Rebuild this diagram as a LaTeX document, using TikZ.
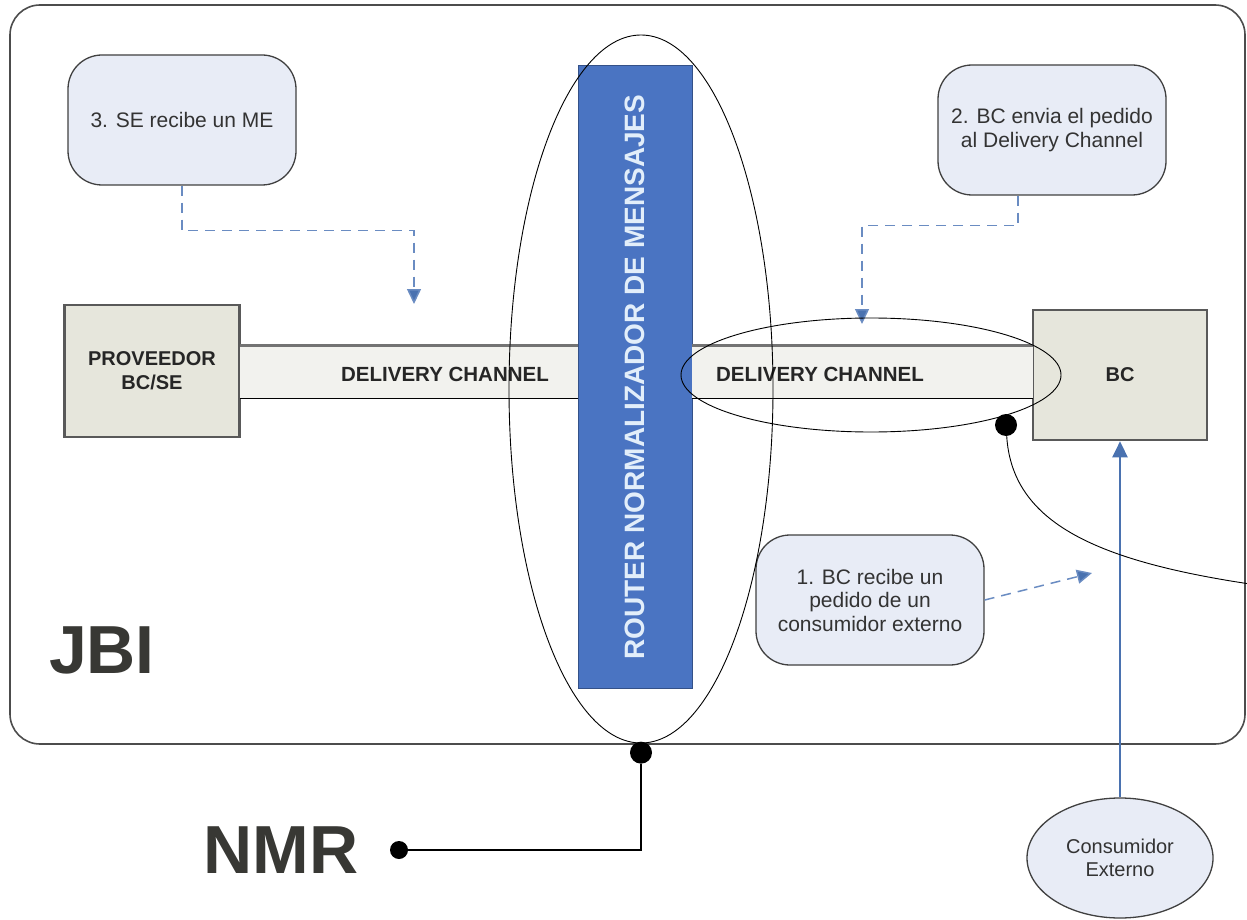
\documentclass[tikz,border=0pt]{standalone}
\usepackage{fontspec}
\setmainfont{Liberation Sans}
\usepackage{tikz}
\usetikzlibrary{shapes,arrows.meta,positioning,calc}

\definecolor{routerblue}{HTML}{4A74C2}
\definecolor{routertext}{HTML}{E2EEFA}
\definecolor{bubblefill}{HTML}{E8ECF6}
\definecolor{compfill}{HTML}{E6E6DC}
\definecolor{chanfill}{HTML}{F2F2EE}
\definecolor{dashblue}{HTML}{6A8CC2}
\definecolor{tipblue}{HTML}{4A72B0}
\definecolor{darktext}{HTML}{383834}

\tikzset{
  bubble/.style={draw=black!75, line width=1.3pt, fill=bubblefill, rounded corners=34pt,
    minimum width=228pt, minimum height=130pt, align=center, text=black!80,
    font=\fontsize{21}{23.5}\selectfont},
  compbox/.style={draw=black!65, line width=2.6pt, fill=compfill, align=center,
    font=\fontsize{20}{24}\selectfont\bfseries, text=black!85},
  channel/.style={fill=chanfill, minimum height=53pt, inner sep=0pt},
  chanlabel/.style={font=\fontsize{20.5}{24}\selectfont\bfseries, text=black!85},
  dasharrow/.style={draw=dashblue, line width=1.5pt, dash pattern=on 10pt off 7pt,
    -{Triangle[length=15pt, width=14pt, fill=tipblue]}},
  dot/.style={circle, fill=black, inner sep=0pt, minimum size=22pt},
  ring/.style={ellipse, draw, line width=0.9pt, inner sep=0pt}
}

\begin{document}
\begin{tikzpicture}[x=1pt, y=-1pt]
    \useasboundingbox (0,0) rectangle (1247,920);

    % JBI container
    \draw[black!70, line width=1.6pt, rounded corners=30pt] (10,5) rectangle (1245,744);
    \node[font=\fontsize{68}{68}\selectfont\bfseries, text=darktext] (jbi) at (102,650) {JBI};

    % Router bar
    \node[draw=routerblue!70!black, line width=1pt, fill=routerblue, minimum width=114pt,
        minimum height=622pt, inner sep=0pt] (router) at (635,377) {};
    \node[rotate=90, text=routertext, font=\fontsize{28}{30}\selectfont\bfseries]
        at (router.center) {ROUTER NORMALIZADOR DE MENSAJES};

    % Components
    \node[compbox, minimum width=175pt, minimum height=132pt] (prov) at (152,371) {PROVEEDOR\\BC/SE};
    \node[compbox, minimum width=174pt, minimum height=130pt] (bc) at (1120,375) {BC};

    % Delivery channels
    \node[channel, minimum width=338pt] (chanL) at (409,372) {};
    \node[chanlabel] (chanLtxt) at (445,374) {DELIVERY CHANNEL};
    \draw[black!55, line width=3pt] (chanL.north west) -- (chanL.north east);
    \draw[black, line width=1.4pt] (chanL.south west) -- (chanL.south east);

    \node[channel, minimum width=341pt] (chanR) at (862.5,372) {};
    \node[chanlabel] (chanRtxt) at (820,374) {DELIVERY CHANNEL};
    \draw[black!55, line width=3pt] (chanR.north west) -- (chanR.north east);
    \draw[black, line width=1.4pt] (chanR.south west) -- (chanR.south east);

    % Steps
    \node[bubble] (step3) at (182,120) {3. SE recibe un ME};
    \node[bubble] (step2) at (1052,130) {2. BC envia el pedido\\al Delivery Channel};
    \node[bubble] (step1) at (870,600) {1. BC recibe un\\pedido de un\\consumidor externo};

    \coordinate (tip3) at (414,304);
    \coordinate (tip2) at (862,324);
    \coordinate (tip1) at (1092,573);
    \draw[dasharrow] (step3.south) -- ++(0,45) -| (tip3);
    \draw[dasharrow] ([xshift=-34pt]step2.south) -- ++(0,30) -| (tip2);
    \draw[dasharrow] (step1.east) -- (tip1);

    % External consumer
    \node[ellipse, draw=black!75, line width=1.3pt, fill=bubblefill, minimum width=186pt,
        minimum height=120pt, align=center, text=black!80,
        font=\fontsize{20}{23}\selectfont] (cons) at (1120,858) {Consumidor\\Externo};
    \draw[tipblue, line width=2.5pt, -{Triangle[length=16pt, width=15pt]}] (cons) -- (bc);

    % Rings and callouts
    \node[ring, minimum width=264pt, minimum height=708pt] (nmrring) at (641,389) {};
    \node[ring, minimum width=380pt, minimum height=114pt] (dcring) at (871,375) {};

    \node[dot, anchor=north, yshift=2pt] (nmrdot) at (nmrring.south) {};
    \node[dot, minimum size=18pt] (nmrend) at (399,850) {};
    \draw[line width=1.2pt] (nmrdot) |- (nmrend);
    \node[font=\fontsize{68}{68}\selectfont\bfseries, text=darktext, left=28pt of nmrend] (nmr) {NMR};

    \node[dot] (dcdot) at (1006,425) {};
    \coordinate (dcend) at (1250,584);
    \draw[line width=0.9pt] (dcdot) .. controls (1012,520) and (1090,560) .. (dcend);
\end{tikzpicture}
\end{document}
